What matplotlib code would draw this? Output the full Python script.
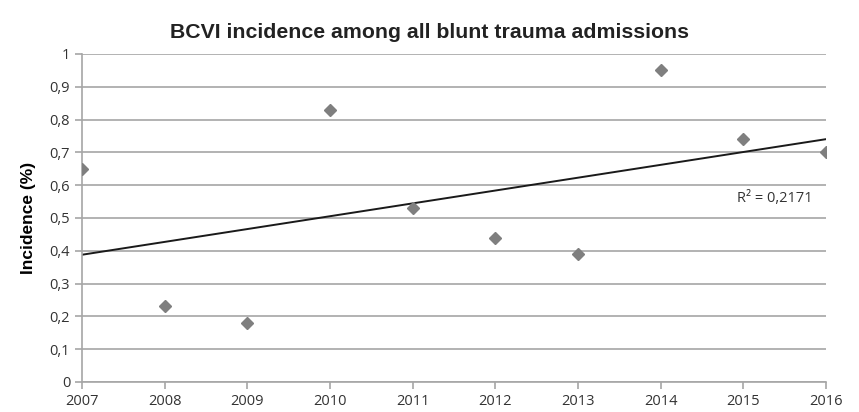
# BCVI incidence among all blunt trauma admissions, 2007-2016
import numpy as np
import matplotlib
matplotlib.use("Agg")
import matplotlib.pyplot as plt
from matplotlib.ticker import FuncFormatter

years = [2007, 2008, 2009, 2010, 2011, 2012, 2013, 2014, 2015, 2016]
incidence = [0.65, 0.23, 0.18, 0.83, 0.53, 0.44, 0.39, 0.95, 0.74, 0.70]
r2_label = "R² = 0,2171"

x = np.array(years, dtype=float)
y = np.array(incidence)

# linear trend line (least squares)
slope, intercept = np.polyfit(x, y, 1)

fig = plt.figure(figsize=(8.59, 4.12), dpi=100)
ax = fig.add_axes([0.0955, 0.073, 0.866, 0.796])

grid_col = "#a6a6a6"
ax.set_yticks(np.arange(0, 1.01, 0.1))
ax.yaxis.grid(True, color=grid_col, linewidth=1.2)
ax.set_axisbelow(True)

ax.plot(x, y, linestyle="none", marker="D", markersize=6.3,
        color="#7f7f7f", zorder=3)
ax.plot([x[0], x[-1]], [slope * x[0] + intercept, slope * x[-1] + intercept],
        color="#1a1a1a", linewidth=1.4, zorder=2)

ax.text(2014.93, 0.56, r2_label, fontsize=10.5, family="Open Sans",
        color="#333333", va="center", ha="left")

ax.set_xlim(2007, 2016)
ax.set_ylim(0, 1)
ax.set_xticks(years)
ax.yaxis.set_major_formatter(
    FuncFormatter(lambda v, p: ("%g" % round(v, 1)).replace(".", ",")))

for s in ["top", "right"]:
    ax.spines[s].set_visible(False)
for s in ["left", "bottom"]:
    ax.spines[s].set_color(grid_col)
    ax.spines[s].set_linewidth(1.2)

ax.tick_params(axis="both", colors=grid_col, length=5, width=1.2,
               labelcolor="#333333", labelsize=10.5)
for lab in ax.get_xticklabels() + ax.get_yticklabels():
    lab.set_family("Open Sans")

ax.set_ylabel("Incidence (%)", fontsize=12.5, fontweight="bold",
              family="Liberation Sans", labelpad=10)
fig.suptitle("BCVI incidence among all blunt trauma admissions",
             fontsize=15.3, fontweight="bold", family="Liberation Sans",
             x=0.5, y=0.945, color="#222222")

fig.savefig("out.png", dpi=100)
